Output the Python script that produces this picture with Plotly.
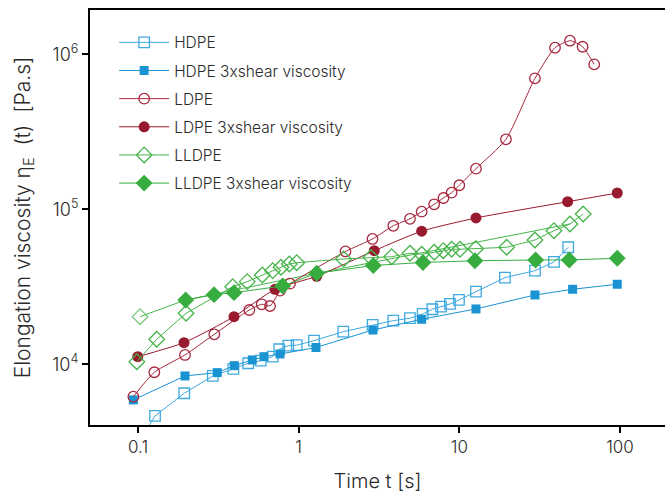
import plotly.graph_objects as go

# HDPE (open squares)
hdpe_t = [0.093, 0.1276, 0.194, 0.292, 0.392, 0.485, 0.580, 0.689, 0.757, 0.861, 0.972, 1.245, 1.894,
          2.887, 3.879, 4.928, 5.910, 6.784, 7.684, 8.74, 9.94, 12.69, 19.22, 29.55, 38.8, 47.6]
hdpe_v = [2700, 4640, 6501, 8403, 9333, 10150, 10550, 11190, 12500, 13180, 13270, 14200, 16230,
          17930, 19110, 19820, 21110, 22640, 23540, 24490, 26000, 29400, 36220, 40180, 45710, 56870]

# HDPE 3x shear viscosity (filled squares)
hdpe_s_t = [0.0935, 0.196, 0.3114, 0.397, 0.514, 0.608, 0.765, 1.281, 2.900, 5.827, 12.69, 29.55, 50.7, 96.1]
hdpe_s_v = [5888, 8403, 8830, 9795, 10660, 11190, 11650, 12830, 16640, 19510, 22750, 27990, 30470, 32830]

# LDPE (open circles)
ldpe_t = [0.0935, 0.1263, 0.196, 0.2984, 0.4928, 0.5886, 0.663, 0.765, 0.883, 1.955, 2.879, 3.879,
          4.928, 5.827, 6.97, 7.96, 8.95, 9.99, 12.69, 19.5, 29.55, 39.4, 48.8, 58.5, 69.1]
ldpe_v = [6180, 8880, 11480, 15610, 22400, 24380, 23770, 29840, 33110, 53430, 64340, 78250,
          86830, 96500, 107700, 118300, 128000, 142900, 182800, 283000, 700000, 1103000, 1224000, 1119000, 862000]

# LDPE 3x shear viscosity (filled circles)
ldpe_s_t = [0.0996, 0.1933, 0.3957, 0.712, 1.294, 2.954, 5.827, 12.69, 47.2, 96.1]
ldpe_s_v = [11190, 13790, 20280, 30470, 36970, 54050, 72230, 87900, 111900, 127400]

# LLDPE (open diamonds)
lldpe_t = [0.0983, 0.1307, 0.199, 0.3885, 0.4786, 0.5935, 0.689, 0.776, 0.874, 0.972, 1.90, 2.818,
           3.79, 4.928, 5.827, 6.98, 7.94, 8.95, 10.09, 12.63, 19.70, 29.55, 38.8, 48.8, 59.0]
lldpe_v = [10390, 14500, 21330, 31660, 34120, 37670, 40180, 42260, 44360, 45240, 47800, 48870,
           49450, 52020, 51260, 52800, 54050, 55200, 55200, 55700, 56870, 63390, 72770, 80380, 93250]

# LLDPE second run (open diamond + line)
lldpe2_t = [0.1029, 0.198, 1.294, 48.8]
lldpe2_v = [20280, 26000, 38640, 80380]

# LLDPE 3x shear viscosity (filled diamonds)
lldpe_s_t = [0.198, 0.2972, 0.3957, 0.795, 1.294, 2.912, 5.936, 12.5, 29.84, 48.3, 96.1]
lldpe_s_v = [26000, 28120, 28970, 32000, 38640, 43390, 45390, 46540, 47100, 47100, 48300]

C_HO = "#3fa9e0"
C_HF = "#1a93d3"
C_LO = "#a8283e"
C_LF = "#981a2f"
C_GO = "#46b54a"
C_GF = "#38ad3f"

fig = go.Figure()

fig.add_trace(go.Scatter(x=lldpe2_t, y=lldpe2_v, mode="lines+markers", showlegend=False,
                         line=dict(color=C_GO, width=1),
                         marker=dict(symbol="diamond-open", size=[12, 0, 0, 0], color=C_GO,
                                     line=dict(width=1.3, color=C_GO))))

fig.add_trace(go.Scatter(x=hdpe_t, y=hdpe_v, mode="lines+markers", name="HDPE", legendgroup="a",
                         line=dict(color=C_HO, width=1),
                         marker=dict(symbol="square-open", size=10.5, color=C_HO, line=dict(width=1.3))))
fig.add_trace(go.Scatter(x=hdpe_s_t, y=hdpe_s_v, mode="lines+markers", name="HDPE 3xshear viscosity",
                         legendgroup="b",
                         line=dict(color=C_HF, width=1),
                         marker=dict(symbol="square", size=9, color=C_HF)))
fig.add_trace(go.Scatter(x=ldpe_t, y=ldpe_v, mode="lines+markers", name="LDPE", legendgroup="c",
                         line=dict(color=C_LO, width=1, shape="spline", smoothing=0.6),
                         marker=dict(symbol="circle-open", size=10.5, color=C_LO, line=dict(width=1.3))))
fig.add_trace(go.Scatter(x=ldpe_s_t, y=ldpe_s_v, mode="lines+markers", name="LDPE 3xshear viscosity",
                         legendgroup="d",
                         line=dict(color=C_LF, width=1, shape="spline", smoothing=0.6),
                         marker=dict(symbol="circle", size=11, color=C_LF)))
fig.add_trace(go.Scatter(x=lldpe_t, y=lldpe_v, mode="lines+markers", name="LLDPE", legendgroup="e",
                         line=dict(color=C_GO, width=1),
                         marker=dict(symbol="diamond-open", size=12, color=C_GO, line=dict(width=1.3))))
fig.add_trace(go.Scatter(x=lldpe_s_t, y=lldpe_s_v, mode="lines+markers", name="LLDPE 3xshear viscosity",
                         legendgroup="f",
                         line=dict(color=C_GF, width=1),
                         marker=dict(symbol="diamond", size=13, color=C_GF)))

FONT = "Inter"
TXT = "#2a2a2a"
NB = "\u00a0"
fig.update_layout(
    width=665, height=493,
    margin=dict(l=90, r=0, t=10, b=68),
    paper_bgcolor="white", plot_bgcolor="white",
    font=dict(family=FONT, size=16, color=TXT, weight=300),
    legend=dict(x=0.042, y=0.962, xanchor="left", yanchor="top", bgcolor="rgba(0,0,0,0)",
                font=dict(size=15.5, family=FONT, color=TXT, weight=300), itemwidth=50,
                tracegroupgap=5, traceorder="grouped"),
    xaxis=dict(type="log", range=[-1.299, 2.280], showgrid=False, zeroline=False,
               showline=True, linecolor="black", linewidth=2, mirror=True,
               ticks="outside", ticklen=6, tickwidth=2, tickcolor="black",
               tickvals=[0.1, 1, 10, 100], ticktext=["0.1", "1", "10", "100"],
               tickfont=dict(size=17, weight=300),
               title=dict(text="Time t [s]", font=dict(size=20, weight=300), standoff=20)),
    yaxis=dict(type="log", range=[3.608, 6.286], showgrid=False, zeroline=False,
               showline=True, linecolor="black", linewidth=2, mirror=False,
               ticks="outside", ticklen=6, tickwidth=2, tickcolor="black",
               tickvals=[1e4, 1e5, 1e6],
               ticktext=["10<sup>4</sup>", "10<sup>5</sup>", "10<sup>6</sup>"],
               tickfont=dict(size=18, weight=300),
               title=dict(text="Elongation viscosity η<sub>E</sub>" + NB * 2 + "(t)" + NB * 2 + "[Pa.s]",
                          font=dict(size=21, weight=300), standoff=16)),
)

fig.write_html("out.html")
